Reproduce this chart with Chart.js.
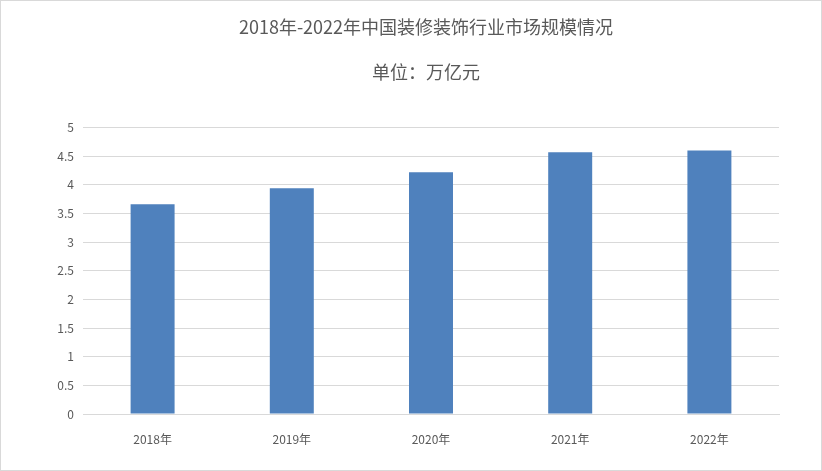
<!DOCTYPE html>
<html><head><meta charset="utf-8">
<script src="https://cdn.jsdelivr.net/npm/chart.js@4/dist/chart.umd.min.js"></script>
<style>
html,body{margin:0;padding:0;background:#fff;}
#wrap{position:relative;width:822px;height:471px;box-sizing:border-box;border:1px solid #d9d9d9;}
canvas{position:absolute;left:0;top:0;}
</style></head><body>
<div id="wrap"><canvas id="c" width="822" height="471"></canvas></div>
<script>
const categories = ['2018年','2019年','2020年','2021年','2022年'];
const marketSize = [3.66, 3.94, 4.22, 4.57, 4.60];
const titleLines = ['2018年-2022年中国装修装饰行业市场规模情况','单位：万亿元'];
const yTicks = [0,0.5,1,1.5,2,2.5,3,3.5,4,4.5,5];

const FONT = "'Noto Sans CJK SC','Noto Sans',sans-serif";
new Chart(document.getElementById('c'), {
  type: 'bar',
  data: {
    labels: categories,
    datasets: [{
      data: marketSize,
      backgroundColor: '#4f81bd',
      borderWidth: 0,
      barPercentage: 0.316,
      categoryPercentage: 1
    }]
  },
  options: {
    responsive: false,
    animation: false,
    devicePixelRatio: 1,
    layout: { padding: { left: 28, right: 0, top: 0, bottom: 0 } },
    plugins: {
      legend: { display: false },
      tooltip: { enabled: false },
      title: {
        display: true,
        text: titleLines,
        color: '#595959',
        font: { family: FONT, size: 18, weight: 'normal', lineHeight: 2.5 },
        padding: { top: 3.5, bottom: 33 }
      }
    },
    scales: {
      x: {
        grid: { display: false },
        border: { display: true, color: '#d9d9d9', width: 1 },
        ticks: { color: '#595959', font: { family: FONT, size: 12 }, padding: 10 },
        afterFit: s => { s.height = 58; }
      },
      y: {
        min: 0, max: 5,
        afterBuildTicks: s => { s.ticks = yTicks.map(v => ({ value: v })); },
        grid: { color: '#d9d9d9', drawTicks: false, lineWidth: 1 },
        border: { display: false },
        ticks: { color: '#595959', font: { family: FONT, size: 12 }, padding: 9,
                 callback: v => String(v) },
        afterFit: s => { s.width = 54; }
      },
      yRight: {
        position: 'right',
        min: 0, max: 5,
        grid: { display: false },
        border: { display: false },
        ticks: { display: false },
        afterFit: s => { s.width = 44; }
      }
    }
  }
});
</script>
</body></html>
